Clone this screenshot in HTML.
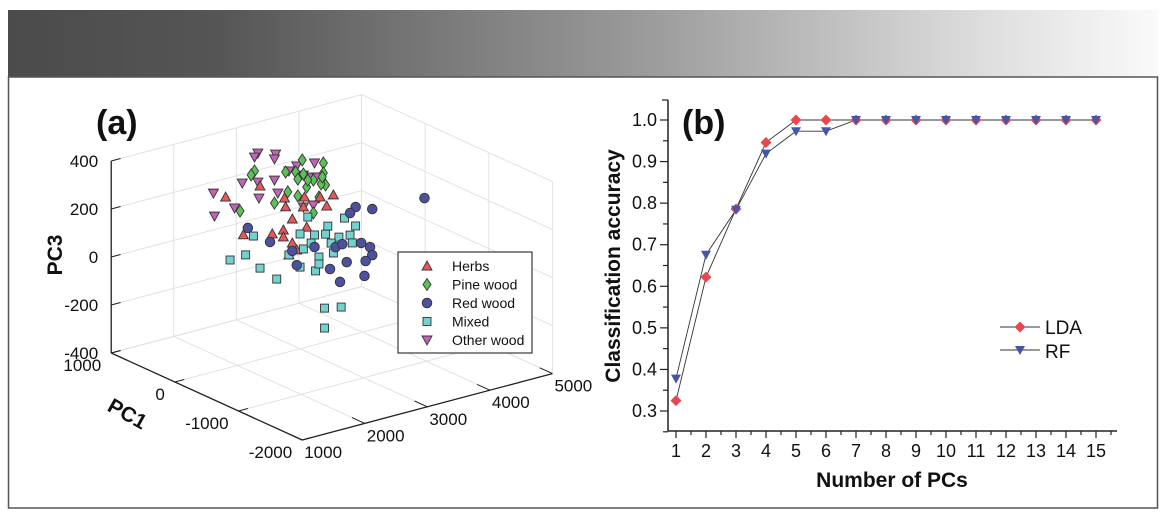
<!DOCTYPE html>
<html><head><meta charset="utf-8"><style>
body{margin:0;background:#fff;width:1174px;height:522px;overflow:hidden;font-family:"Liberation Sans",sans-serif}
svg{position:absolute;left:0;top:0}
</style></head><body>
<svg id="fig" width="1174" height="522">
<defs><linearGradient id="bg" x1="0" x2="1" y1="0" y2="0">
<stop offset="0" stop-color="#4b4b4b"/><stop offset="0.18" stop-color="#555"/><stop offset="0.55" stop-color="#9a9a9a"/><stop offset="0.85" stop-color="#dedede"/><stop offset="1" stop-color="#fafafa"/></linearGradient></defs>
<rect x="8" y="10" width="1150" height="67" fill="url(#bg)"/>
<rect x="8.5" y="77" width="1149" height="431" fill="none" stroke="#555" stroke-width="1.5"/>
<g id="a"></g>
<g id="b"></g>
</svg>
<script>
// ---------- Panel (a) data ----------
const herbsPC2=[1302,1852,2243,2563,2918,3025,2261,2368,2598,2225,1586,2048,2225,2368,2439,2314,2545,2812];
const herbsPC3=[410,418,341,323,261,300,303,245,195,209,233,205,180,145,111,99,283,306];
const pinePC2=[1764,1710,2261,2527,2865,2865,2421,2545,2456,2705,2900,2829,2296,2598,2456,2794,2083,1533,2705,2616,2847];
const pinePC3=[487,474,448,480,444,402,437,420,405,384,350,359,363,362,335,307,331,336,247,390,387];
const redPC2=[4481,3380,3646,3291,1657,2012,2723,3060,3167,3469,3611,3646,3238,3540,2439,2971,3522,3131,2368];
const redPC3=[186,225,198,206,257,174,104,80,85,69,42,6,5,-11,48,-5,-72,-70,112];
const mixPC2=[2616,2936,3202,3380,1746,2492,2723,2900,3113,3291,3327,2545,2794,3025,1622,1373,1852,2119,2740,2794,2492,2883,3149,2883,2314,2669,2989];
const mixPC3=[236,176,191,146,217,174,154,145,118,114,79,108,57,58,147,143,76,12,3,28,36,-162,-176,-245,99,124,102];
const otherPC2=[1817,2101,1764,2083,2723,2439,1107,1568,1817,2083,1444,1124,1835,2137,2669,2758,2545,2705,2545,2314];
const otherPC3=[558,534,545,515,454,461,440,450,437,427,355,343,369,369,399,393,416,280,283,449];
const pc1Ticks=[1000,0,-1000,-2000];
const pc2Ticks=[1000,2000,3000,4000,5000];
const pc3Ticks=[400,200,0,-200,-400];
const classNames=["Herbs","Pine wood","Red wood","Mixed","Other wood"];

// ---------- Panel (b) data ----------
const nPCs=[1,2,3,4,5,6,7,8,9,10,11,12,13,14,15];
const ldaAcc=[0.325,0.622,0.786,0.946,1,1,1,1,1,1,1,1,1,1,1];
const rfAcc=[0.378,0.676,0.784,0.919,0.973,0.973,1,1,1,1,1,1,1,1,1];
const yTicks=[0.3,0.4,0.5,0.6,0.7,0.8,0.9,1.0];

const NS="http://www.w3.org/2000/svg";
function mk(parent,tag,attrs,text){const e=document.createElementNS(NS,tag);for(const k in attrs)e.setAttribute(k,attrs[k]);if(text!==undefined)e.textContent=text;parent.appendChild(e);return e;}

function P(pc1,pc2,pc3){
  const x=272+(pc2-1000)*0.0563-(pc1+2000)*0.0573;
  const y=440-(pc2-1000)*0.0166-(pc1+2000)*0.029-(pc3+400)*0.24;
  return [x*10/9,y];
}
const A=document.getElementById('a');
function line3(a,b,st,w,name){const p=P(...a),q=P(...b);const l=mk(A,'line',{x1:p[0],y1:p[1],x2:q[0],y2:q[1],stroke:st,'stroke-width':w});

}
pc2Ticks.forEach(v=>{line3([-2000,v,-400],[1000,v,-400],'#e2e2e2',1,'grid-line');line3([1000,v,-400],[1000,v,400],'#e2e2e2',1,'grid-line');});
pc1Ticks.forEach(v=>{line3([v,1000,-400],[v,5000,-400],'#e2e2e2',1,'grid-line');line3([v,5000,-400],[v,5000,400],'#e2e2e2',1,'grid-line');});
pc3Ticks.forEach(v=>{line3([1000,1000,v],[1000,5000,v],'#e2e2e2',1,'grid-line');line3([1000,5000,v],[-2000,5000,v],'#e2e2e2',1,'grid-line');});
line3([1000,1000,-400],[1000,1000,400],'#222',1.3,'pc3-axis');
line3([1000,1000,-400],[-2000,1000,-400],'#222',1.3,'pc1-axis');
line3([-2000,1000,-400],[-2000,5000,-400],'#222',1.3,'pc2-axis');
const tf='font-size:17px;fill:#111';
pc3Ticks.forEach(v=>{const p=P(1000,1000,v);line3([1000,1000,v],[1000,1150,v],'#222',1,'pc3-tick');
 const t=mk(A,'text',{x:p[0]-13,y:p[1]+6,'text-anchor':'end',style:tf},v);
 
 });
pc1Ticks.forEach(v=>{const p=P(v,1000,-400);line3([v,1000,-400],[v,1150,-400],'#222',1,'pc1-tick');
 const t=mk(A,'text',{x:p[0]-10,y:p[1]+18,'text-anchor':'end',style:tf},v);
 
 });
pc2Ticks.forEach(v=>{const p=P(-2000,v,-400);line3([-2000,v,-400],[-1800,v,-400],'#222',1,'pc2-tick');
 const t=mk(A,'text',{x:p[0]+2,y:p[1]+18,'text-anchor':'start',style:tf},v);
 
 });
let t=mk(A,'text',{x:0,y:0,transform:'translate(62,255) rotate(-90)','text-anchor':'middle',style:'font-size:21px;font-weight:bold;fill:#111'},'PC3');


t=mk(A,'text',{x:0,y:0,transform:'translate(124,420) rotate(29)','text-anchor':'middle',style:'font-size:21px;font-weight:bold;fill:#111'},'PC1');


t=mk(A,'text',{x:96,y:134,style:'font-size:34px;font-weight:bold;fill:#111'},'(a)');



function marker(g,kind,x,y){
  const st={stroke:'#333','stroke-width':0.9};let e;
  if(kind===0)e=mk(g,'polygon',Object.assign({points:`${x},${y-5} ${x+5},${y+4} ${x-5},${y+4}`,fill:'#e5585a'},st));
  else if(kind===1)e=mk(g,'polygon',Object.assign({points:`${x},${y-6} ${x+4},${y} ${x},${y+6} ${x-4},${y}`,fill:'#5cc257'},st));
  else if(kind===2)e=mk(g,'circle',Object.assign({cx:x,cy:y,r:4.8,fill:'#4c519e'},st));
  else if(kind===3)e=mk(g,'rect',Object.assign({x:x-4,y:y-4,width:8,height:8,fill:'#72d2d0'},st));
  else e=mk(g,'polygon',Object.assign({points:`${x-5},${y-4} ${x+5},${y-4} ${x},${y+5}`,fill:'#c163b7'},st));
  return e;
}
const series=[[herbsPC2,herbsPC3],[pinePC2,pinePC3],[redPC2,redPC3],[mixPC2,mixPC3],[otherPC2,otherPC3]];
const drawOrder=[4,1,0,3,2];
drawOrder.forEach(k=>{const [a2,a3]=series[k];a2.forEach((v,i)=>{const p=P(-500,v,a3[i]);const m=marker(A,k,p[0],p[1]);
 
 });});
const lg=mk(A,'g',{});


mk(lg,'rect',{x:398,y:252,width:134,height:101,fill:'#fff',stroke:'#111','stroke-width':1});
classNames.forEach((n,i)=>{const y=266+i*18.5;const m=marker(lg,i,427,y);
 
 
 const tx=mk(lg,'text',{x:452,y:y+5,style:'font-size:14px;fill:#111'},n);
 
 });

// ---------- Panel (b) ----------
const B=document.getElementById('b');
const X0=668,XE=1117,YT=100,YB=431;
const sx=v=>676+(v-1)*30;
const sy=v=>120+(1.0-v)*(411-120)/0.7;
let e=mk(B,'line',{x1:X0,y1:YT,x2:X0,y2:YB,stroke:'#222','stroke-width':1.5});


e=mk(B,'line',{x1:X0,y1:YB,x2:XE,y2:YB,stroke:'#222','stroke-width':1.5});


mk(B,'line',{x1:X0,y1:YT,x2:X0-6,y2:YT,stroke:'#222','stroke-width':1.2});
yTicks.forEach(v=>{const y=sy(v);mk(B,'line',{x1:X0,y1:y,x2:X0-8,y2:y,stroke:'#222','stroke-width':1.2});
 const ym=sy(v+0.05);if(ym>YT)mk(B,'line',{x1:X0,y1:ym,x2:X0-5,y2:ym,stroke:'#222','stroke-width':1.2});
 const tt=mk(B,'text',{x:X0-11,y:y+6,'text-anchor':'end',style:'font-size:18px;fill:#111'},v.toFixed(1));
 
 });
mk(B,'line',{x1:X0,y1:sy(0.25),x2:X0-5,y2:sy(0.25),stroke:'#222','stroke-width':1.2});
nPCs.forEach(v=>{const x=sx(v);mk(B,'line',{x1:x,y1:YB,x2:x,y2:YB+7,stroke:'#222','stroke-width':1.2});
 mk(B,'line',{x1:x+15,y1:YB,x2:x+15,y2:YB+4,stroke:'#222','stroke-width':1.2});
 const tt=mk(B,'text',{x:x,y:YB+26,'text-anchor':'middle',style:'font-size:18px;fill:#111'},v);
 
 });
t=mk(B,'text',{x:0,y:0,transform:'translate(620,266) rotate(-90)','text-anchor':'middle',style:'font-size:21px;font-weight:bold;fill:#111'},'Classification accuracy');


t=mk(B,'text',{x:892,y:487,'text-anchor':'middle',style:'font-size:21px;font-weight:bold;fill:#111'},'Number of PCs');


t=mk(B,'text',{x:682,y:134,style:'font-size:34px;font-weight:bold;fill:#111'},'(b)');


function pts(arr){return arr.map((v,i)=>sx(nPCs[i])+','+sy(v)).join(' ');}
e=mk(B,'polyline',{points:pts(rfAcc),fill:'none',stroke:'#333','stroke-width':0.9});


e=mk(B,'polyline',{points:pts(ldaAcc),fill:'none',stroke:'#333','stroke-width':0.9});


function dia(g,x,y){return mk(g,'polygon',{points:`${x},${y-5.5} ${x+5.5},${y} ${x},${y+5.5} ${x-5.5},${y}`,fill:'#e8474e'});}
function tri(g,x,y){return mk(g,'polygon',{points:`${x-5},${y-4} ${x+5},${y-4} ${x},${y+5}`,fill:'#4656a6'});}
ldaAcc.forEach((v,i)=>{const m=dia(B,sx(nPCs[i]),sy(v));
 
 });
rfAcc.forEach((v,i)=>{const m=tri(B,sx(nPCs[i]),sy(v));
 
 });
const lb=mk(B,'g',{});


mk(lb,'line',{x1:1000,y1:327,x2:1040,y2:327,stroke:'#333','stroke-width':0.9});
dia(lb,1020,327);
e=mk(lb,'text',{x:1045,y:334,style:'font-size:19px;fill:#111'},'LDA');


mk(lb,'line',{x1:1000,y1:350,x2:1040,y2:350,stroke:'#333','stroke-width':0.9});
tri(lb,1020,350);
e=mk(lb,'text',{x:1045,y:358,style:'font-size:19px;fill:#111'},'RF');


</script>
</body></html>
